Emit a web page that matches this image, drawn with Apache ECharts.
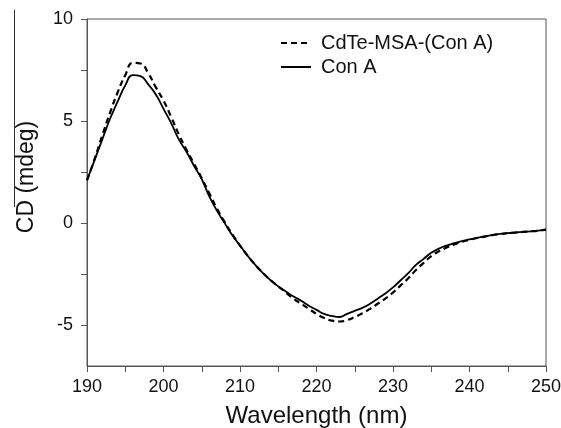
<!DOCTYPE html>
<html>
<head>
<meta charset="utf-8">
<script src="https://cdn.jsdelivr.net/npm/echarts@6/dist/echarts.min.js"></script>
<style>html,body{margin:0;padding:0;background:#fff;}#c{width:561px;height:428px;}</style>
</head>
<body>
<div id="c"></div>
<script>
var wavelengths = [190,191,192,193,194,195,196,197,198,199,200,201,202,203,204,205,206,207,208,209,210,211,212,213,214,215,216,217,218,219,220,221,222,223,224,225,226,227,228,229,230,231,232,233,234,235,236,237,238,239,240,241,242,243,244,245,246,247,248,249,250];
var cdteConA = [2.1,3.15,4.3,5.4,6.4,7.25,7.85,7.82,7.35,6.65,6.0,5.2,4.35,3.6,2.9,2.2,1.45,0.7,0.05,-0.55,-1.1,-1.6,-2.05,-2.45,-2.8,-3.1,-3.4,-3.7,-3.95,-4.2,-4.45,-4.65,-4.78,-4.82,-4.75,-4.6,-4.42,-4.2,-3.95,-3.7,-3.4,-3.05,-2.7,-2.3,-1.95,-1.62,-1.38,-1.2,-1.05,-0.92,-0.82,-0.73,-0.66,-0.59,-0.53,-0.49,-0.46,-0.43,-0.4,-0.37,-0.32];
var conA = [2.1,3.1,4.1,5.1,5.95,6.75,7.25,7.2,6.8,6.3,5.6,4.9,4.1,3.5,2.8,2.15,1.3,0.6,0.0,-0.6,-1.1,-1.6,-2.05,-2.45,-2.8,-3.1,-3.35,-3.6,-3.8,-4.05,-4.25,-4.45,-4.55,-4.6,-4.45,-4.3,-4.15,-3.95,-3.7,-3.45,-3.15,-2.8,-2.45,-2.05,-1.75,-1.45,-1.25,-1.1,-0.98,-0.88,-0.8,-0.72,-0.65,-0.58,-0.53,-0.49,-0.46,-0.43,-0.4,-0.37,-0.32];
var yTicks = [-5,-2.5,0,2.5,5,7.5,10];
var yLabels = [-5,0,5,10];
var seriesNames = ['CdTe-MSA-(Con A)','Con A'];

function pairs(xs, ys){ return xs.map(function(x,i){ return [x, ys[i]]; }); }
var font = 'Liberation Sans, Arial, sans-serif';
var chart = echarts.init(document.getElementById('c'));
chart.setOption({
  animation: false,
  backgroundColor: '#fff',
  grid: { left: 87, top: 19, right: 15, bottom: 62, containLabel: false, outerBoundsMode: 'none',
    show: true, borderColor: '#555', borderWidth: 1 },
  legend: {
    orient: 'vertical', left: 275, top: 28, itemWidth: 30, itemHeight: 14, itemGap: 4,
    itemStyle: { opacity: 0 },
    textStyle: { fontFamily: font, fontSize: 20, lineHeight: 20, color: '#111', padding: [0,0,0,5] },
    data: seriesNames
  },
  xAxis: {
    type: 'value', min: 190, max: 250, interval: 5,
    axisLine: { onZero: false, lineStyle: { color: '#555', width: 1 } },
    axisTick: { inside: false, length: 6, lineStyle: { color: '#555' } },
    axisLabel: { margin: 12, fontFamily: font, fontSize: 18, color: '#111',
      formatter: function(v){ return v % 10 === 0 ? String(v) : ''; } },
    splitLine: { show: false },
    name: 'Wavelength (nm)', nameLocation: 'middle', nameGap: 38,
    nameTextStyle: { fontFamily: font, fontSize: 24, color: '#111' }
  },
  yAxis: {
    type: 'value', min: -7, max: 10,
    axisLine: { show: true, onZero: false, lineStyle: { color: '#555', width: 1 } },
    axisTick: { show: true, length: 6, customValues: yTicks, lineStyle: { color: '#555' } },
    axisLabel: { margin: 14, fontFamily: font, fontSize: 18, color: '#111', customValues: yLabels },
    splitLine: { show: false }
  },
  graphic: [
    { type: 'text', x: 27, y: 177, rotation: Math.PI/2,
      style: { text: 'CD (mdeg)', font: '23px ' + font, fill: '#111', align: 'center', verticalAlign: 'middle' } },
    { type: 'line', shape: { x1: 14.5, y1: 10, x2: 14.5, y2: 207 }, style: { stroke: '#333', lineWidth: 1 } }
  ],
  series: [
    { name: seriesNames[0], type: 'line', symbol: 'none', smooth: true, data: pairs(wavelengths, cdteConA),
      lineStyle: { color: '#000', width: 2.2, type: [6,4] }, itemStyle: { color: '#000' } },
    { name: seriesNames[1], type: 'line', symbol: 'none', smooth: true, data: pairs(wavelengths, conA),
      lineStyle: { color: '#000', width: 1.8, type: 'solid' }, itemStyle: { color: '#000' } }
  ]
});
</script>
</body>
</html>
